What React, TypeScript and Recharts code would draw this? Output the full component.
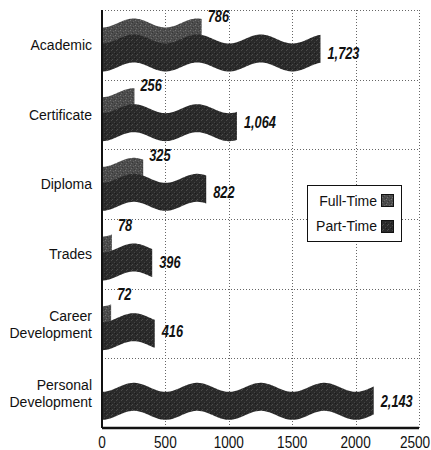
import { BarChart, Bar, XAxis, YAxis, CartesianGrid, LabelList } from 'recharts';

// categories top to bottom
const categories = ['Academic', 'Certificate', 'Diploma', 'Trades', 'Career Development', 'Personal Development'];
const fullTime = [786, 256, 325, 78, 72, null];
const partTime = [1723, 1064, 822, 396, 416, 2143];
const seriesNames = ['Full-Time', 'Part-Time'];
const xTicks = [0, 500, 1000, 1500, 2000, 2500];

const data = categories.map((name, i) => ({
  name,
  fullTime: fullTime[i],
  partTime: partTime[i],
}));

const WAVE_PERIOD = 63.5; // px, about 500 units
const WAVE_AMP = 4.5;
const SANS = '"Liberation Sans", Arial, sans-serif';
const SQUEEZE = 0.8; // fake a condensed face

// wavy ribbon shape for the bars
const WavyBar = (props: any) => {
  const { x, y, width, height, fill } = props;
  if (!width || width <= 0) return null;
  const off = (px: number) => WAVE_AMP * Math.cos((2 * Math.PI * (px - x)) / WAVE_PERIOD);
  const xs: number[] = [];
  for (let px = x; px < x + width; px += 1) xs.push(px);
  xs.push(x + width);
  const top = xs.map((px, i) => `${i === 0 ? 'M' : 'L'}${px.toFixed(2)},${(y + off(px)).toFixed(2)}`).join(' ');
  const bottom = xs
    .slice()
    .reverse()
    .map((px) => `L${px.toFixed(2)},${(y + height + off(px)).toFixed(2)}`)
    .join(' ');
  return <path d={`${top} ${bottom} Z`} fill={fill} />;
};

const fmt = (v: number) => v.toLocaleString('en-US');

const ValueText = ({ x, y, value }: any) => (
  <text transform={`translate(${x},${y}) scale(${SQUEEZE},1)`} dominantBaseline="central"
    fontFamily={SANS} fontWeight="bold" fontStyle="italic" fontSize={16} fill="#111">
    {fmt(value)}
  </text>
);

const FullLabel = (p: any) => {
  if (p.value == null || !p.width) return null;
  return <ValueText x={p.x + p.width + 6} y={p.y - 7} value={p.value} />;
};

const PartLabel = (p: any) => {
  if (p.value == null) return null;
  return <ValueText x={p.x + p.width + 7} y={p.y + p.height / 2} value={p.value} />;
};

const NumberTick = ({ x, y, payload }: any) => (
  <text transform={`translate(${x},${y}) scale(${SQUEEZE + 0.05},1)`} textAnchor="middle" dy="0.75em"
    fontFamily={SANS} fontSize={16} fill="#111">
    {payload.value}
  </text>
);

const CategoryTick = ({ x, y, payload }: any) => {
  const words = String(payload.value).split(' ');
  if (words.length === 1) {
    return (
      <text x={x} y={y} textAnchor="end" dominantBaseline="central" fontFamily={SANS} fontSize={14} fill="#111">
        {words[0]}
      </text>
    );
  }
  return (
    <text x={x} y={y} textAnchor="end" fontFamily={SANS} fontSize={14} fill="#111">
      <tspan x={x} y={y - 8} dominantBaseline="central">{words[0]}</tspan>
      <tspan x={x} y={y + 9} dominantBaseline="central">{words.slice(1).join(' ')}</tspan>
    </text>
  );
};

// horizontal grid lines sit on the category boundaries
const bandBoundaries = ({ offset }: any) => {
  const n = categories.length;
  const out: number[] = [];
  for (let i = 0; i <= n; i++) out.push(Math.round(offset.top + (i * offset.height) / n) + 0.5);
  return out;
};

const Swatch = ({ fill }: { fill: string }) => (
  <svg width={13} height={13} style={{ display: 'block' }}>
    <rect x={0.5} y={0.5} width={12} height={12} fill={fill} stroke="#111" strokeWidth={1} />
  </svg>
);

export default function App() {
  return (
    <div style={{ position: 'relative', width: 431, height: 450 }}>
      <style>{'body{margin:0}'}</style>
      <BarChart
        width={431}
        height={450}
        data={data}
        layout="vertical"
        margin={{ top: 10, right: 12, bottom: 0, left: 0 }}
        barSize={28}
        barGap={-12}
      >
        <defs>
          <pattern id="ftTex" width="5" height="5" patternUnits="userSpaceOnUse">
            <rect width="5" height="5" fill="#4c4c4c" />
            <rect x="0" y="0" width="1" height="1" fill="#747474" />
            <rect x="3" y="1" width="1" height="1" fill="#666" />
            <rect x="1" y="3" width="1" height="1" fill="#6c6c6c" />
            <rect x="4" y="4" width="1" height="1" fill="#383838" />
            <rect x="2" y="2" width="1" height="1" fill="#363636" />
          </pattern>
          <pattern id="ptTex" width="5" height="5" patternUnits="userSpaceOnUse">
            <rect width="5" height="5" fill="#2a2a2a" />
            <rect x="1" y="0" width="1" height="1" fill="#4a4a4a" />
            <rect x="4" y="2" width="1" height="1" fill="#444" />
            <rect x="2" y="4" width="1" height="1" fill="#4e4e4e" />
            <rect x="0" y="3" width="1" height="1" fill="#1a1a1a" />
          </pattern>
        </defs>
        <CartesianGrid
          stroke="#666"
          strokeDasharray="1 2"
          strokeWidth={1}
          horizontalCoordinatesGenerator={bandBoundaries}
          verticalCoordinatesGenerator={({ offset }: any) =>
            xTicks.map((t) => Math.round(offset.left + (t / xTicks[xTicks.length - 1]) * offset.width) + 0.5)
          }
        />
        <XAxis
          type="number"
          domain={[0, 2500]}
          ticks={xTicks}
          height={22}
          tickLine={false}
          tickSize={0}
          tickMargin={8}
          axisLine={{ stroke: '#111', strokeWidth: 2.5 }}
          tick={<NumberTick />}
        />
        <YAxis
          type="category"
          dataKey="name"
          width={102}
          tickLine={false}
          tickSize={0}
          tickMargin={10}
          axisLine={{ stroke: '#111', strokeWidth: 2 }}
          tick={<CategoryTick />}
          interval={0}
        />
        <Bar dataKey="fullTime" name={seriesNames[0]} fill="url(#ftTex)" shape={<WavyBar />} isAnimationActive={false}>
          <LabelList dataKey="fullTime" content={<FullLabel />} />
        </Bar>
        <Bar dataKey="partTime" name={seriesNames[1]} fill="url(#ptTex)" shape={<WavyBar />} isAnimationActive={false}>
          <LabelList dataKey="partTime" content={<PartLabel />} />
        </Bar>
      </BarChart>
      <div
        style={{
          position: 'absolute', left: 307, top: 185, width: 95, height: 57, boxSizing: 'border-box',
          border: '1px solid #111', background: '#fff', fontFamily: SANS, fontSize: 14, color: '#111',
          display: 'flex', flexDirection: 'column', justifyContent: 'space-around', alignItems: 'flex-end',
          padding: '2px 7px 2px 0',
        }}
      >
        {seriesNames.map((n, i) => (
          <div key={n} style={{ display: 'flex', alignItems: 'center', gap: 4 }}>
            <span>{n}</span>
            <Swatch fill={i === 0 ? 'url(#ftTex)' : 'url(#ptTex)'} />
          </div>
        ))}
      </div>
    </div>
  );
}
